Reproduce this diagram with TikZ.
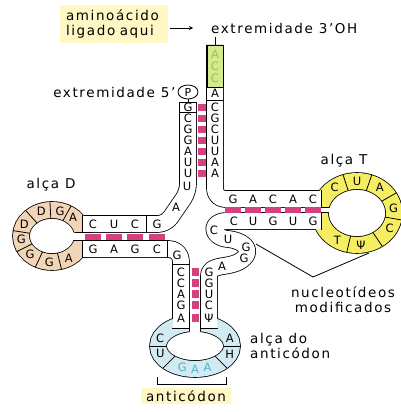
\documentclass[tikz,border=0pt]{standalone}
\usepackage{fontspec}
\setmainfont{DejaVu Sans}
\newfontfamily\lblfont{DejaVu Sans}[LetterSpace=12]
\usetikzlibrary{arrows.meta, positioning, shapes.geometric}

\definecolor{pairpink}{HTML}{D6407F}
\definecolor{accgreen}{HTML}{D5E98E}
\definecolor{accletter}{HTML}{98C447}
\definecolor{tyellow}{HTML}{F6EE62}
\definecolor{dtan}{HTML}{F1D5B6}
\definecolor{acblue}{HTML}{D2EAF2}
\definecolor{accyan}{HTML}{4DB3CE}
\definecolor{boxyellow}{HTML}{FFF8C4}

% backbone of the molecule, drawn twice (outline pass, then fill pass)
\def\accfive{(188,103) [rounded corners=8pt] -- (188,192) -- (166,224) -- (82,224)}
\def\accthree{(215,45) [rounded corners=10pt] -- (215,199) -- (321,199)}
\def\dbottom{(82,249) [rounded corners=12pt] -- (181,249) -- (181,328)}
\def\varloop{(209,328) -- (209,276) .. controls (209,262) and (232,270) .. (244,258)
  .. controls (254,248) and (240,240) .. (228,239)
  .. controls (212,238) and (208,222) .. (226,221) -- (321,221)}

\begin{document}
\begin{tikzpicture}[x=1pt, y=-1pt,
  tubeout/.style={line width=17.6pt, line join=round},
  tubein/.style={line width=16pt, white, line join=round},
  ringout/.style={line width=17.6pt},
  ringin/.style={line width=16pt},
  sep/.style={line width=0.8pt},
  nt/.style={font=\fontsize{11.5}{11.5}\selectfont, inner sep=0pt},
  lbl/.style={font=\lblfont\fontsize{13.5}{15}\selectfont, inner sep=0pt, align=left}
]
\useasboundingbox (0,0) rectangle (401,412);

% outlines
\draw[tubeout] \accfive;
\draw[tubeout] \accthree;
\draw[tubeout] \dbottom;
\draw[tubeout] \varloop;
\draw[ringout] (357,213) ellipse [x radius=37pt, y radius=32pt];
\draw[ringout] (52,236) ellipse [x radius=31pt, y radius=26pt];
\draw[ringout] (195,346) ellipse [x radius=37pt, y radius=23pt];

% loops
\draw[ringin, tyellow] (357,213) ellipse [x radius=37pt, y radius=32pt];
\draw[ringin, dtan] (52,236) ellipse [x radius=31pt, y radius=26pt];
\draw[ringin, acblue] (195,346) ellipse [x radius=37pt, y radius=23pt];

% strands
\draw[tubein] \accfive;
\draw[tubein] \accthree;
\draw[tubein] \dbottom;
\draw[tubein] \varloop;

% open the stems into the loops
\fill[white] (310,207.8) rectangle (330,212.2);
\draw[sep] (311,207.4) -- (328.8,207.4) (311,212.6) -- (328.2,212.6);
\fill[white] (73,232.8) rectangle (92,240.2);
\draw[sep] (74.5,232.4) -- (92,232.4) (74.3,240.6) -- (92,240.6);
\fill[white] (189.8,312) rectangle (200.2,332);
\draw[sep] (189.4,312) -- (189.4,331.3) (200.6,312) -- (200.6,331.3);

% cell borders
\draw[sep] (179.2,102) -- (196.8,102) (180,112.5) -- (196,112.5)
  (207,100) -- (223,100) (146,216) -- (146,232) (167,241) -- (167,257)
  (173,264) -- (189,264)
  (82,215.2) -- (82,232.8) (82,240.2) -- (82,257.8)
  (321,190.2) -- (321,207.8) (321,212.2) -- (321,229.8)
  (172.2,328) -- (189.8,328) (200.2,328) -- (217.8,328);
\foreach \a in {-108,-71,-30,10,56,103}
  \draw[sep] ({357+28.6*cos(\a)},{213+23.6*sin(\a)}) -- ({357+45.4*cos(\a)},{213+40.4*sin(\a)});
\foreach \a in {299,267,228,189,153,115,76}
  \draw[sep] ({52+22.6*cos(\a)},{236+17.6*sin(\a)}) -- ({52+39.4*cos(\a)},{236+34.4*sin(\a)});
\foreach \a in {180,135,45,0}
  \draw[sep] ({195+28.6*cos(\a)},{346+14.6*sin(\a)}) -- ({195+45.4*cos(\a)},{346+31.4*sin(\a)});

% amino acid end
\node[draw, sep, fill=accgreen, minimum width=16pt, minimum height=42pt, inner sep=0pt] (accbox) at (215,66) {};
\node[draw, sep, ellipse, minimum width=20pt, minimum height=14pt, inner sep=0pt,
  font=\fontsize{11}{11}\selectfont] (phos) at (188,92) {P};
\coordinate (g1top) at (188,102);
\draw[sep] (phos.south) -- (g1top);

% base pairs
\foreach \y in {107,118,129,140,151,162,173}
  \fill[pairpink] (198,\y-3.5) rectangle (205.5,\y+3.5);
\foreach \x in {233,253,273,293,313}
  \fill[pairpink] (\x-8,207) rectangle (\x+8,213);
\foreach \x in {93,114,135,157}
  \fill[pairpink] (\x-8,233.5) rectangle (\x+8,239.5);
\foreach \y in {272,283,294,305,318}
  \fill[pairpink] (191.5,\y-4) rectangle (198.5,\y+4);

% bases
\foreach \y/\b [count=\i] in {107/G,118/C,129/G,140/G,151/A,162/U,173/U}
  \node[nt] (acl\i) at (188,\y) {\b};
\node[nt] (u8) at (187,186) {U};
\node[nt] (a9) at (176,207) {A};
\foreach \y/\b [count=\i] in {54/A,66/C,78/C}
  \node[nt, text=accletter] (cca\i) at (215,\y) {\b};
\foreach \y/\b [count=\i] in {93/A,107/C,118/G,129/C,140/U,151/U,162/A,173/A}
  \node[nt] (acr\i) at (215,\y) {\b};
\foreach \x/\b [count=\i] in {233/G,253/A,273/C,293/A,313/C}
  \node[nt] (tst\i) at (\x,199) {\b};
\foreach \x/\b [count=\i] in {234/C,253/U,273/G,293/U,313/G}
  \node[nt] (tsb\i) at (\x,221) {\b};
\foreach \a/\b [count=\i] in {-127/C,-90/U,-52/A,-8/G,28/C,84/Ψ,122/T}
  \node[nt] (tlp\i) at ({357+37*cos(\a)},{213+32*sin(\a)}) {\b};
\foreach \x/\b [count=\i] in {157/G,135/C,114/U,93/C}
  \node[nt] (dst\i) at (\x,224) {\b};
\foreach \a/\b [count=\i] in {313/A,285/G,250/D,207/D,172/G,135/G,95/G,57/A}
  \node[nt] (dlp\i) at ({52+31*cos(\a)},{236+26*sin(\a)}) {\b};
\foreach \x/\b [count=\i] in {93/G,114/A,135/G,157/C}
  \node[nt] (dsb\i) at (\x,249) {\b};
\node[nt] (g26) at (177,255) {G};
\foreach \y/\b [count=\i] in {272/C,283/C,294/A,305/G,318/A}
  \node[nt] (asl\i) at (181,\y) {\b};
\foreach \a/\b [count=\i] in {200/C,160/U}
  \node[nt] (alp\i) at ({195+37*cos(\a)},{346+23*sin(\a)}) {\b};
\foreach \a/\b [count=\i] in {110/G,90/A,70/A}
  \node[nt, text=accyan] (acod\i) at ({195+37*cos(\a)},{346+23*sin(\a)}) {\b};
\foreach \a/\b [count=\i] in {20/H,-20/A}
  \node[nt] (arp\i) at ({195+37*cos(\a)},{346+23*sin(\a)}) {\b};
\foreach \y/\b [count=\i] in {318/Ψ,305/C,294/U,283/G,272/G}
  \node[nt] (asr\i) at (209,\y) {\b};
\foreach \x/\y/\b [count=\i] in {222/266/A,244/258/G,246/247/G,228/239/U,214/230/C}
  \node[nt] (var\i) at (\x,\y) {\b};

% labels
\node[lbl, fill=boxyellow, text width=96pt, inner xsep=6pt, inner ysep=5pt] (aminobox) at (114,24) {aminoácido\\ligado aqui};
\node[lbl, anchor=west] (ext3) at (211,28) {extremidade 3’OH};
\draw[sep, -{Stealth[length=4pt, width=4pt]}, shorten <=2pt, shorten >=18pt] (aminobox.east |- ext3.west) -- (ext3.west);
\draw[sep, shorten >=4pt] (accbox.north) -- (accbox.north |- ext3.south);
\node[lbl, left=2pt of phos] (ext5) {extremidade 5’};
\node[lbl] (alcat) at (344,161) {alça T};
\node[lbl] (alcad) at (51,185) {alça D};
\node[lbl, anchor=west] (alcaac) at (250,346) {alça do\\anticódon};
\node[lbl, align=center] (modlbl) at (343,300) {nucleotídeos\\modificados};
\coordinate (modapex) at (313,277);
\coordinate (modvar) at (256,244);
\coordinate (modpsi) at (369,253);
\draw[sep] (modvar) -- (modapex) -- (modpsi);
\draw[sep] (157,377) -- (157,384) -- (226,384) -- (226,377);
\node[lbl, fill=boxyellow, inner xsep=5pt, inner ysep=3pt] (acbox) at (186,396) {anticódon};
\end{tikzpicture}
\end{document}
